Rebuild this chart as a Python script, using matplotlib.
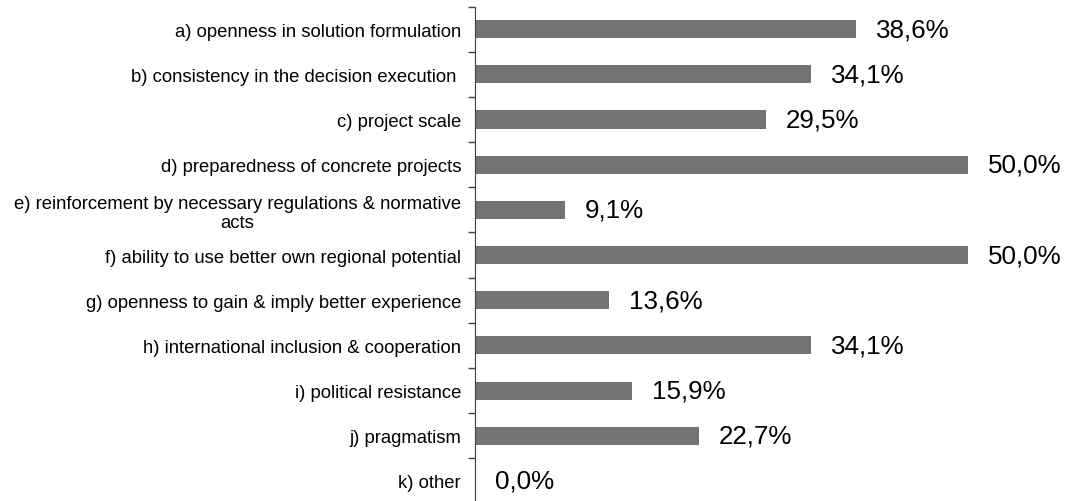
import matplotlib.pyplot as plt
import numpy as np

plt.rcParams['font.family'] = ['Liberation Sans', 'DejaVu Sans']

# Categories and values (percent)
categories = [
    'a) openness in solution formulation',
    'b) consistency in the decision execution ',
    'c) project scale',
    'd) preparedness of concrete projects',
    'e) reinforcement by necessary regulations & normative\nacts',
    'f) ability to use better own regional potential',
    'g) openness to gain & imply better experience',
    'h) international inclusion & cooperation',
    'i) political resistance',
    'j) pragmatism',
    'k) other',
]
values = [38.6, 34.1, 29.5, 50.0, 9.1, 50.0, 13.6, 34.1, 15.9, 22.7, 0.0]

fig = plt.figure(figsize=(10.67, 5.02), dpi=100)
ax = fig.add_axes([475 / 1067, -0.005, 1 - 475 / 1067, 0.99])

y = np.arange(len(categories))
ax.barh(y, values, height=0.4, color='#737373')

for yi, v in zip(y, values):
    ax.text(v + 2.0, yi, f'{v:.1f}%'.replace('.', ','), va='center', ha='left',
            fontsize=18.7, color='black')

ax.set_xlim(0, 60)
ax.set_ylim(len(categories) - 0.5, -0.5)

# boundary ticks (major) and category labels (minor)
ax.set_yticks(np.arange(-0.5, len(categories) + 0.5, 1))
ax.set_yticklabels([])
ax.set_yticks(y, minor=True)
ax.set_yticklabels(categories, minor=True, fontsize=13.3)
for lab in ax.get_yticklabels(minor=True):
    lab.set_multialignment('center')
ax.tick_params(axis='y', which='major', length=5, width=1, color='#404040')
ax.tick_params(axis='y', which='minor', length=0, pad=10)

ax.set_xticks([])
for side in ['top', 'right', 'bottom']:
    ax.spines[side].set_visible(False)
ax.spines['left'].set_color('#404040')

plt.savefig('out.png', dpi=100)
